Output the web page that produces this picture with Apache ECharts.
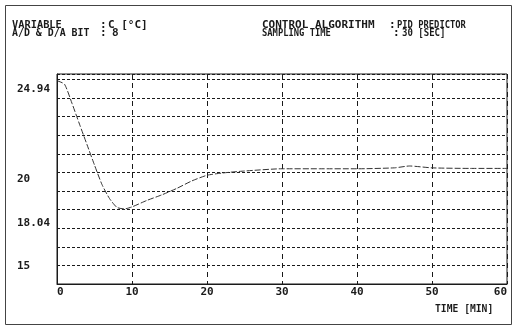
<!DOCTYPE html>
<html><head><meta charset="utf-8">
<script src="https://cdn.jsdelivr.net/npm/echarts@6/dist/echarts.min.js"></script>
<style>html,body{margin:0;padding:0;background:#fff}#c{width:514px;height:328px}</style>
</head><body><div id="c"></div>
<script>
// ---- data ----
const timeMin = [0, 1, 2, 3, 4, 5, 6, 7, 8, 9, 10, 12, 14, 16, 18, 20, 22, 25, 30, 35, 40, 45, 47, 50, 55, 60];
const tempC   = [24.94, 24.75, 23.72, 22.6, 21.5, 20.4, 19.35, 18.6, 18.12, 18.04, 18.15, 18.5, 18.8, 19.15, 19.55, 19.85, 19.97, 20.08, 20.2, 20.2, 20.2, 20.25, 20.35, 20.25, 20.22, 20.22];
const yLabelValues = [24.94, 20, 18.04, 15];
const headerLeft  = [['VARIABLE', ':', 'C [°C]'], ['A/D & D/A BIT', ':', '8']];
const headerRight = [['CONTROL ALGORITHM', ':', 'PID PREDICTOR'], ['SAMPLING TIME', ':', '30 [SEC]']];
const xAxisName = 'TIME [MIN]';

// ---- styles ----
const FONT = '"DejaVu Sans Mono", "Liberation Mono", monospace';
const INK = '#1a1a1a';
const yPad = [16, 14, 28, 2];
const rich = {};
yLabelValues.forEach((v, i) => {
  rich['p' + i] = { padding: [yPad[i], 0, 0, 0], fontFamily: FONT, fontSize: 11, fontWeight: 'bold', color: INK };
});

const chart = echarts.init(document.getElementById('c'), null, { renderer: 'canvas' });

const graphics = [
  { type: 'rect', shape: { x: 5.5, y: 5.5, width: 506, height: 319 }, style: { fill: 'none', stroke: '#444', lineWidth: 1 } }
];
const hdrX  = [[12, 100, 108], [12, 100, 112]];
const hdrXR = [[262, 389, 397], [262, 393, 402]];
const hdrY = [25.5, 33.5];
const scaleL = [[0.94, 1, 1], [0.9, 1, 1]];
const scaleR = [[1.0, 1, 0.8], [0.8, 1, 0.82]];
function addText(t, x, y, sx) {
  graphics.push({
    type: 'text', x: x, y: y, scaleX: sx, scaleY: 1, originX: 0, originY: 0,
    style: { text: t, font: 'bold 11px ' + FONT, fill: INK, verticalAlign: 'middle' }
  });
}
headerLeft.forEach((row, r) => row.forEach((t, c) => addText(t, hdrX[r][c], hdrY[r], scaleL[r][c])));
headerRight.forEach((row, r) => row.forEach((t, c) => addText(t, hdrXR[r][c], hdrY[r], scaleR[r][c])));
addText(xAxisName, 435, 309, 0.88);

chart.setOption({
  animation: false,
  backgroundColor: '#fff',
  grid: { left: 57, right: 7, top: 74, bottom: 44, show: true, borderColor: INK, borderWidth: 1 },
  xAxis: {
    type: 'value', min: 0, max: 60, interval: 10,
    axisLine: { show: true, lineStyle: { color: INK } },
    axisTick: { show: false },
    axisLabel: { margin: 3, fontFamily: FONT, fontSize: 11, fontWeight: 'bold', color: INK,
                 alignMinLabel: 'left', alignMaxLabel: 'right' },
    splitLine: { show: true, lineStyle: { color: INK, type: [5, 4], width: 1 } }
  },
  yAxis: {
    type: 'value', min: 14, max: 25.3, interval: 1,
    axisLine: { show: true, lineStyle: { color: INK } },
    axisTick: { show: false },
    axisLabel: {
      margin: 40, align: 'left', fontFamily: FONT, fontSize: 11, fontWeight: 'bold', color: INK,
      customValues: yLabelValues,
      formatter: (v) => {
        const i = yLabelValues.findIndex(x => Math.abs(x - v) < 1e-6);
        return i >= 0 ? '{p' + i + '|' + v + '}' : '';
      },
      rich: rich
    },
    splitLine: { show: true, lineStyle: { color: INK, type: [3, 2], width: 1 } }
  },
  graphic: graphics,
  series: [{
    type: 'line',
    data: timeMin.map((t, i) => [t, tempC[i]]),
    showSymbol: false,
    smooth: 0.2,
    lineStyle: { color: '#333', width: 1, type: [6, 2] }
  }]
});
</script></body></html>
